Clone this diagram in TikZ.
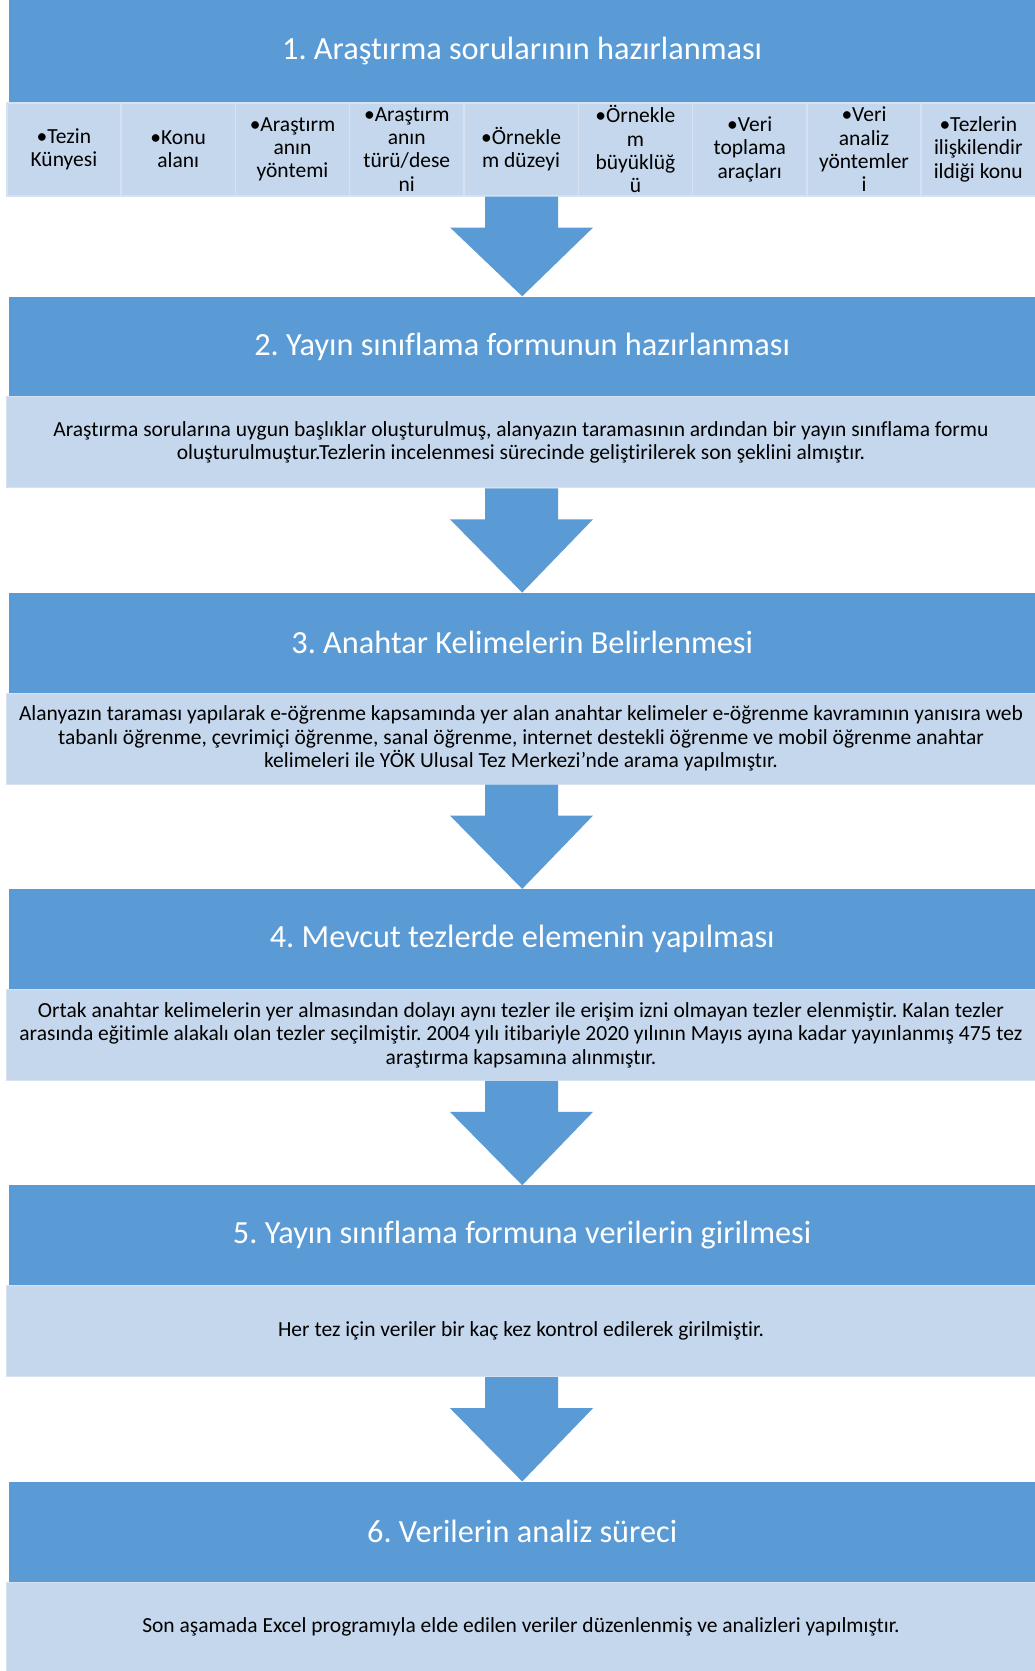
\documentclass[tikz,border=0pt]{standalone}
\usepackage{fontspec}
\setmainfont{Carlito}[Ligatures=NoCommon]
\usetikzlibrary{calc}
\definecolor{hblue}{RGB}{91,155,213}
\definecolor{lblue}{RGB}{197,215,236}
\definecolor{lborder}{RGB}{214,226,242}
\newcommand{\flowarrow}[2]{%
  \fill[hblue] ($(#1.south)+(-36,0)$) -- ($(#1.south)+(37,0)$) -- ($(#1.south)+(37,31)$)
    -- ($(#1.south)+(72,31)$) -- (#2.north) -- ($(#1.south)+(-71,31)$)
    -- ($(#1.south)+(-36,31)$) -- cycle;}
\begin{document}
\frenchspacing
\begin{tikzpicture}[x=1pt,y=-1pt,
  hdr/.style={fill=hblue, draw=none, text=white, minimum width=1026pt, minimum height=100pt,
    anchor=north west, inner sep=0pt, font=\fontsize{32.3}{38}\selectfont},
  body/.style={fill=lblue, draw=lborder, line width=1pt, minimum width=1029pt, minimum height=91pt,
    anchor=north west, inner sep=0pt, align=center, font=\fontsize{21.5}{23.5}\selectfont},
  cell/.style={fill=lblue, draw=lborder, line width=1.5pt, minimum width=114.3pt, minimum height=93pt,
    anchor=north west, inner sep=0pt, align=center, font=\fontsize{21.5}{23.3}\selectfont}]
\useasboundingbox (0,0) rectangle (1035,1671);
\fill[white] (0,0) rectangle (1035,1671);

% stage 1
\node[hdr, minimum height=102pt] (h1) at (9,0) {1. Araştırma sorularının hazırlanması};
\foreach \t [count=\i] in {{•Tezin\\Künyesi},{•Konu\\alanı},{•Araştırm\\anın\\yöntemi},
  {•Araştırm\\anın\\türü/dese\\ni},{•Örnekle\\m düzeyi},{•Örnekle\\m\\büyüklüğ\\ü},
  {•Veri\\toplama\\araçları},{•Veri\\analiz\\yöntemler\\i},{•Tezlerin\\ilişkilendir\\ildiği konu}}
  \node[cell] (s\i) at ({6+(\i-1)*114.3},102) {\t};

% stage 2
\node[hdr] (h2) at (9,296.3) {2. Yayın sınıflama formunun hazırlanması};
\node[body] (t2) at (6,396.3) {Araştırma sorularına uygun başlıklar oluşturulmuş, alanyazın taramasının ardından bir yayın sınıflama formu\\oluşturulmuştur.Tezlerin incelenmesi sürecinde geliştirilerek son şeklini almıştır.};

% stage 3
\node[hdr] (h3) at (9,592.6) {3. Anahtar Kelimelerin Belirlenmesi};
\node[body] (t3) at (6,692.6) {Alanyazın taraması yapılarak e-öğrenme kapsamında yer alan anahtar kelimeler e-öğrenme kavramının yanısıra web\\tabanlı öğrenme, çevrimiçi öğrenme, sanal öğrenme, internet destekli öğrenme ve mobil öğrenme anahtar\\kelimeleri ile YÖK Ulusal Tez Merkezi’nde arama yapılmıştır.};

% stage 4
\node[hdr] (h4) at (9,888.9) {4. Mevcut tezlerde elemenin yapılması};
\node[body] (t4) at (6,988.9) {Ortak anahtar kelimelerin yer almasından dolayı aynı tezler ile erişim izni olmayan tezler elenmiştir. Kalan tezler\\arasında eğitimle alakalı olan tezler seçilmiştir. 2004 yılı itibariyle 2020 yılının Mayıs ayına kadar yayınlanmış 475 tez\\araştırma kapsamına alınmıştır.};

% stage 5
\node[hdr] (h5) at (9,1185.2) {5. Yayın sınıflama formuna verilerin girilmesi};
\node[body] (t5) at (6,1285.2) {Her tez için veriler bir kaç kez kontrol edilerek girilmiştir.};

% stage 6
\node[hdr] (h6) at (9,1481.5) {6. Verilerin analiz süreci};
\node[body, minimum height=89.5pt] (t6) at (6,1581.5) {Son aşamada Excel programıyla elde edilen veriler düzenlenmiş ve analizleri yapılmıştır.};

% arrows
\flowarrow{s5}{h2}
\flowarrow{t2}{h3}
\flowarrow{t3}{h4}
\flowarrow{t4}{h5}
\flowarrow{t5}{h6}
\end{tikzpicture}
\end{document}
